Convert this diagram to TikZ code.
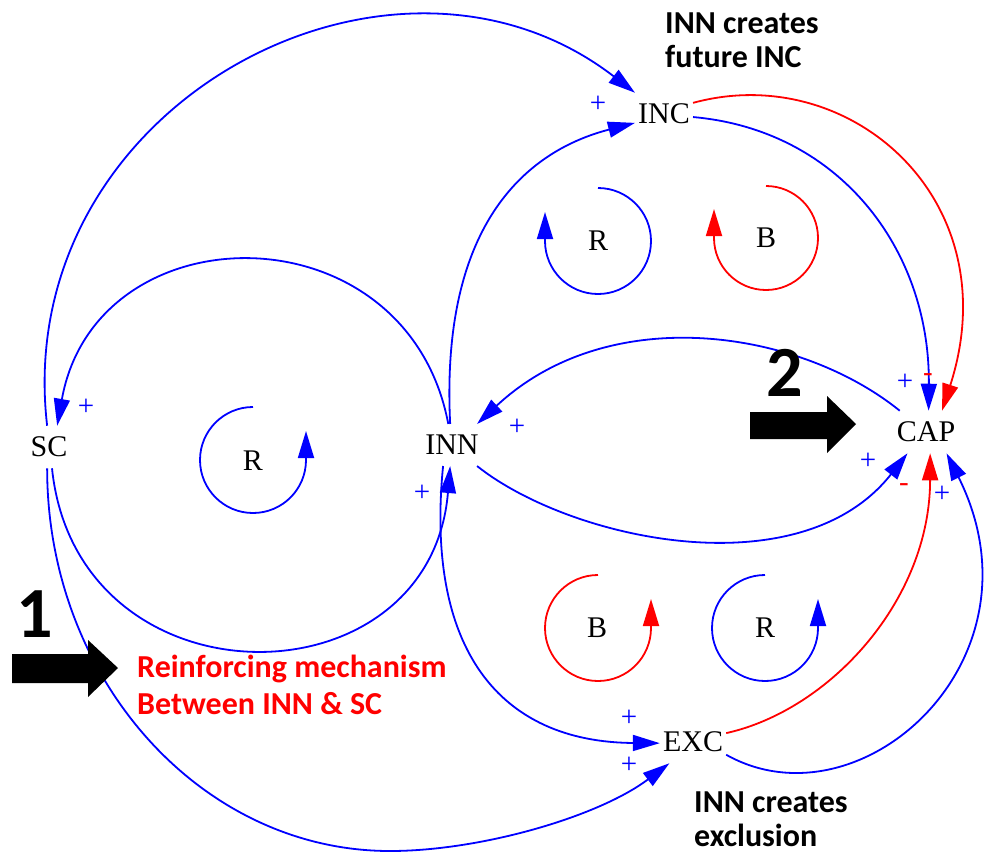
\documentclass[tikz,border=0pt]{standalone}
\usepackage{fontspec}
\setmainfont{Liberation Serif}
\newfontfamily\lblfont{Carlito}
\usetikzlibrary{arrows.meta}
\begin{document}
\begin{tikzpicture}[x=1pt,y=-1pt,
  var/.style={font=\fontsize{30}{36}\selectfont, inner xsep=3pt, inner ysep=11pt},
  mytip/.style={-{Triangle[length=27pt,width=16pt]}},
  poslink/.style={draw=blue, line width=1.8pt, mytip},
  neglink/.style={draw=red, line width=1.8pt, mytip},
  plussign/.style={font=\fontsize{29}{29}\selectfont, text=blue, inner sep=0pt},
  minussign/.style={font=\fontsize{29}{29}\selectfont, text=red, inner sep=0pt},
  looplbl/.style={font=\fontsize{30}{36}\selectfont, inner sep=0pt},
  lbl/.style={font=\lblfont\bfseries\fontsize{32}{34}\selectfont, align=left, inner sep=0pt, anchor=north west},
  bignum/.style={font=\lblfont\bfseries\fontsize{72}{72}\selectfont, inner sep=0pt, anchor=base},
  bigarrow/.style={fill=black, draw=none}
]
\useasboundingbox (0,0) rectangle (984,854);

% variables
\node[var] (SC)  at (49,447)  {SC};
\node[var] (INN) at (452,445) {INN};
\node[var] (INC) at (664,114) {INC};
\node[var] (CAP) at (926,432) {CAP};
\node[var] (EXC) at (693,742) {EXC};

% loop labels
\node[looplbl] (L1) at (253,461) {R};
\node[looplbl] (L2) at (598,241) {R};
\node[looplbl] (L3) at (766,238) {B};
\node[looplbl] (L4) at (597,628) {B};
\node[looplbl] (L5) at (765,628) {R};

% loop symbols
\draw[poslink] (253,407) arc[start angle=-90,end angle=-360,radius=53] -- ++(0,-29);
\draw[poslink] (598,188) arc[start angle=-90,end angle=180,radius=53] -- ++(0,-29);
\draw[neglink] (766,186) arc[start angle=-90,end angle=180,radius=52] -- ++(0,-29);
\draw[neglink] (598,575) arc[start angle=-90,end angle=-360,radius=53] -- ++(0,-29);
\draw[poslink] (765,575) arc[start angle=-90,end angle=-360,radius=53] -- ++(0,-29);

% connectors
\draw[poslink] (SC.95) .. controls (10,106) and (390,-96) .. (INC.north west);
\draw[poslink] (INN.100) .. controls (407,206) and (96,208) .. (SC.69);
\draw[poslink] (SC.-82) .. controls (77,710) and (430,708) .. (INN.-95);
\draw[poslink] (SC.-95) .. controls (47,679) and (201,851) .. (390,851)
                    .. controls (480,851) and (598,817) .. (EXC.222);
\draw[poslink] (INN.-113) .. controls (425,650) and (500,742) .. (EXC.182);
\draw[poslink] (INN.95) .. controls (440,220) and (530,150) .. (INC.197);
\draw[poslink] (INC.-6) .. controls (840,130) and (930,250) .. (CAP.83);
\draw[neglink] (INC.21) .. controls (850,60) and (1010,200) .. (CAP.53);
\draw[poslink] (CAP.141) .. controls (800,330) and (610,300) .. (INN.40);
\draw[poslink] (INN.-40) .. controls (570,540) and (800,590) .. (CAP.229);
\draw[neglink] (EXC.15) .. controls (830,710) and (930,600) .. (CAP.-79);
\draw[poslink] (EXC.-21) .. controls (860,830) and (1050,660) .. (CAP.-46);

% polarities
\node[plussign] (p1) at (598,104) {+};
\node[plussign] (p2) at (905,382) {+};
\node[minussign] (m1) at (928,378) {-};
\node[plussign] (p3) at (868,461) {+};
\node[minussign] (m2) at (904,488) {-};
\node[plussign] (p4) at (942,494) {+};
\node[plussign] (p5) at (86,407) {+};
\node[plussign] (p6) at (517,427) {+};
\node[plussign] (p7) at (422,493) {+};
\node[plussign] (p8) at (629,718) {+};
\node[plussign] (p9) at (629,765) {+};

% annotations
\node[lbl] (t1) at (665,13) {INN creates\\future INC};
\node[lbl] (t2) at (694,792) {INN creates\\exclusion};
\node[lbl, text=red, font=\lblfont\bfseries\fontsize{32}{37}\selectfont] (t3) at (137,655) {Reinforcing mechanism\\Between INN \& SC};

\node[bignum] (n1) at (35,637) {1};
\node[bignum] (n2) at (785,396) {2};
\fill[bigarrow] (12,654) -- (88,654) -- (88,640) -- (118,668) -- (88,697) -- (88,683) -- (12,683) -- cycle;
\fill[bigarrow] (750,412) -- (827,412) -- (827,396) -- (856,424) -- (827,453) -- (827,439) -- (750,439) -- cycle;
\end{tikzpicture}
\end{document}
